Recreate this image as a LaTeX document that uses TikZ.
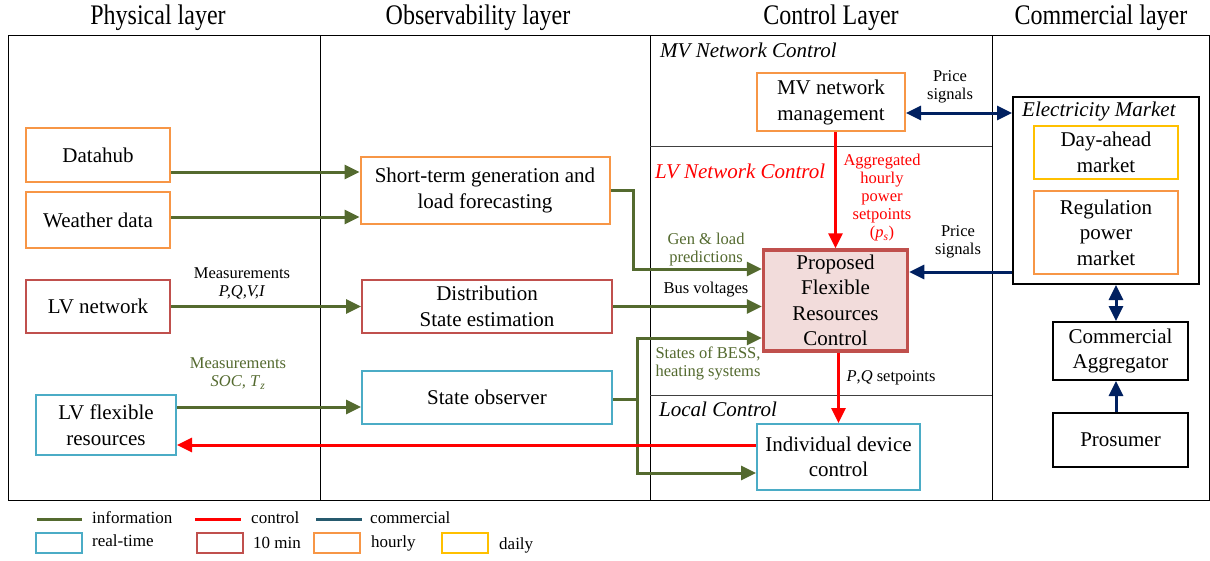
\documentclass[tikz,border=0pt]{standalone}
\usepackage{fontspec}
\setmainfont{Liberation Serif}
\usetikzlibrary{arrows.meta,calc}
\definecolor{infog}{RGB}{84,106,47}
\definecolor{ctrlr}{RGB}{255,0,0}
\definecolor{navy}{RGB}{0,32,96}
\definecolor{commteal}{RGB}{38,90,110}
\definecolor{rtblue}{RGB}{75,172,198}
\definecolor{tenred}{RGB}{192,80,77}
\definecolor{hourly}{RGB}{247,150,70}
\definecolor{daily}{RGB}{255,192,0}
\definecolor{pinkfill}{RGB}{242,220,219}
\newcommand\boxfont{\fontsize{21}{25.5}\selectfont}
\newcommand\smallfont{\fontsize{16.5}{18}\selectfont}
\newcommand\headfont{\fontsize{24}{28}\selectfont}
\newcommand\legfont{\fontsize{17}{20}\selectfont}
\newcommand\secfont{\fontsize{21}{24}\selectfont\itshape}
\newcommand\tallhead[1]{\scalebox{1}[1.18]{#1}}
\begin{document}
\begin{tikzpicture}[x=1pt,y=-1pt,
  box/.style={draw,line width=2pt,align=center,font=\boxfont,inner sep=0pt},
  rt/.style={box,draw=rtblue},
  tm/.style={box,draw=tenred},
  hr/.style={box,draw=hourly},
  dl/.style={box,draw=daily},
  bk/.style={box,draw=black},
  tip/.style={-{Triangle[length=15pt,width=14pt]}},
  tips/.style={{Triangle[length=15pt,width=14pt]}-{Triangle[length=15pt,width=14pt]}},
  info/.style={draw=infog,line width=3pt},
  ctrl/.style={draw=ctrlr,line width=3pt},
  comm/.style={draw=navy,line width=3pt},
  lbl/.style={font=\smallfont,align=center,inner sep=0pt},
  sec/.style={font=\secfont,anchor=west,inner sep=0pt},
  head/.style={font=\headfont,inner sep=0pt},
  leg/.style={font=\legfont,anchor=west,inner sep=0pt},
  legbox/.style={draw,line width=2pt,minimum width=46pt,minimum height=20pt,inner sep=0pt}
]
\useasboundingbox (0,0) rectangle (1210,560);
\fill[white] (0,0) rectangle (1210,560);

% frame
\draw[line width=1pt] (8,35) rectangle (1209.5,500);
\draw[line width=1pt] (320,35) -- (320,500);
\draw[line width=1pt] (650,35) -- (650,500);
\draw[line width=1pt] (992,35) -- (992,500);
\draw[line width=1pt,black!75] (650,146) -- (992,146);
\draw[line width=1pt,black!75] (650,395) -- (992,395);

% headers
\node[head] (h1) at (158,18) {\tallhead{Physical layer}};
\node[head] (h2) at (478,18) {\tallhead{Observability layer}};
\node[head] (h3) at (831,18) {\tallhead{Control Layer}};
\node[head] (h4) at (1101,18) {\tallhead{Commercial layer}};

% section labels
\node[sec] (mvc) at (660,50) {MV Network Control};
\node[sec,text=ctrlr] (lvc) at (655,171) {LV Network Control};
\node[sec] (lcc) at (659,409) {Local Control};

% physical
\node[hr,minimum width=144pt,minimum height=54pt] (datahub) at (98,155) {Datahub};
\node[hr,minimum width=144pt,minimum height=56pt] (weather) at (98,220) {Weather data};
\node[tm,minimum width=144pt,minimum height=53pt] (lvnet) at (98,306.5) {LV network};
\node[rt,minimum width=140pt,minimum height=60pt] (lvflex) at (106,425) {LV flexible\\resources};

% observability
\node[hr,minimum width=249pt,minimum height=67pt] (fore) at (485,190.5) {Short-term generation and\\load forecasting};
\node[tm,minimum width=250pt,minimum height=53pt] (dse) at (487,306.5) {Distribution\\State estimation};
\node[rt,minimum width=250pt,minimum height=53pt] (obs) at (487,397.5) {State observer};

% control
\node[hr,minimum width=148pt,minimum height=58pt] (mv) at (831,102) {\raisebox{-3pt}{\begin{tabular}{@{}c@{}}MV network\\[0.5pt]management\end{tabular}}};
\node[draw=tenred,line width=3.5pt,fill=pinkfill,minimum width=144pt,minimum height=101pt,align=center,font=\boxfont,inner sep=0pt] (pfrc) at (835.5,300.5) {Proposed\\Flexible\\Resources\\Control};
\node[rt,minimum width=163pt,minimum height=66pt] (idc) at (838.5,457) {Individual device\\control};

% commercial
\node[draw=black,line width=2pt,minimum width=186pt,minimum height=187pt,inner sep=0pt] (emkt) at (1106,190.5) {};
\node[sec] (emlab) at (1022,111) {Electricity Market};
\node[dl,minimum width=144pt,minimum height=53pt] (dam) at (1106,152.5) {Day-ahead\\market};
\node[hr,minimum width=144pt,minimum height=83pt] (reg) at (1106,232.5) {Regulation\\power\\market};
\node[bk,minimum width=135pt,minimum height=58pt] (agg) at (1120.5,351) {Commercial\\Aggregator};
\node[bk,minimum width=135pt,minimum height=54pt] (pros) at (1120.5,440) {Prosumer};

% helper coordinates
\coordinate (yD) at (0,172);
\coordinate (yW) at (0,217);
\coordinate (yO) at (0,407);
\coordinate (yG) at (0,269);
\coordinate (yJ) at (0,399);
\coordinate (yS) at (0,338);
\coordinate (yI) at (0,473);
\coordinate (yR) at (0,445);
\coordinate (yA) at (0,113);
\coordinate (yP) at (0,272);
\coordinate (xF) at (633,0);
\coordinate (xJ) at (637,0);
\coordinate (xC) at (1116,0);

% information arrows
\draw[info,tip] (datahub.east|-yD) -- (fore.west|-yD);
\draw[info,tip] (weather.east|-yW) -- (fore.west|-yW);
\draw[info,tip] (lvnet.east) -- (dse.west);
\draw[info,tip] (lvflex.east|-yO) -- (obs.west|-yO);
\draw[info,tip] (fore.east) -- (fore.east-|xF) -- (xF|-yG) -- (pfrc.west|-yG);
\draw[info,tip] (dse.east) -- (pfrc.west|-dse.east);
\draw[info,tip] (obs.east|-yJ) -- (xJ|-yJ) -- (xJ|-yS) -- (pfrc.west|-yS);
\draw[info,tip] (xJ|-yJ) -- (xJ|-yI) -- (idc.west|-yI);

% control arrows
\draw[ctrl,tip] (pfrc.north|-mv.south) -- (pfrc.north);
\draw[ctrl,tip] (idc.north|-pfrc.south) -- (idc.north);
\draw[ctrl,tip] (idc.west|-yR) -- (lvflex.east|-yR);

% commercial arrows
\draw[comm,tips] (mv.east|-yA) -- (emkt.west|-yA);
\draw[comm,tip] (emkt.west|-yP) -- (pfrc.east|-yP);
\draw[comm,tips] (xC|-emkt.south) -- (xC|-agg.north);
\draw[comm,tip] (xC|-pros.north) -- (xC|-agg.south);

% labels
\node[lbl] (lm1) at (242,283.5) {Measurements\\\textit{P,Q,V,I}};
\node[lbl,text=infog] (lm2) at (238,373.5) {Measurements\\\textit{SOC, T}\textsubscript{\textit{z}}};
\node[lbl,text=infog] (lgen) at (706,249.5) {Gen \& load\\predictions};
\node[lbl] (lbus) at (706,290) {Bus voltages};
\node[lbl,text=infog] (lst) at (708,363) {States of BESS,\\heating systems};
\node[lbl,text=ctrlr] (lagg) at (882,198) {Aggregated\\hourly\\power\\setpoints\\(\textit{p}\textsubscript{\textit{s}})};
\node[lbl] (lpq) at (891,378) {\textit{P},\textit{Q} setpoints};
\node[lbl] (lp1) at (950,87) {Price\\signals};
\node[lbl] (lp2) at (958,242) {Price\\signals};

% legend
\coordinate (g1) at (37,519); \coordinate (g2) at (82,519);
\coordinate (r1) at (195,519); \coordinate (r2) at (241,519);
\coordinate (c1) at (316,519); \coordinate (c2) at (362,519);
\draw[draw=infog,line width=3pt] (g1) -- (g2);
\draw[draw=ctrlr,line width=3pt] (r1) -- (r2);
\draw[draw=commteal,line width=3pt] (c1) -- (c2);
\node[leg] (tinfo) at (92,518) {information};
\node[leg] (tctrl) at (251,518) {control};
\node[leg] (tcomm) at (370,518) {commercial};
\node[legbox,draw=rtblue] (brt) at (59,543) {};
\node[legbox,draw=tenred] (btm) at (219.5,543) {};
\node[legbox,draw=hourly] (bhr) at (337,543) {};
\node[legbox,draw=daily] (bdl) at (464.5,543) {};
\node[leg] (trt) at (92,541) {real-time};
\node[leg] (ttm) at (253,543) {10 min};
\node[leg] (thr) at (371,543) {hourly};
\node[leg] (tdl) at (499,545) {daily};
\end{tikzpicture}
\end{document}
